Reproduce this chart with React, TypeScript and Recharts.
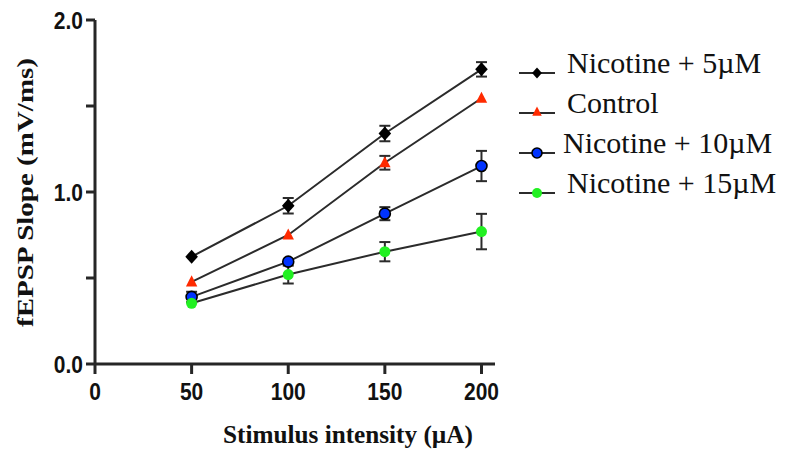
import React from 'react';
import { LineChart, Line, XAxis, YAxis, ErrorBar, Legend } from 'recharts';

const intensities = [50, 100, 150, 200];
const nic5Values = [0.624, 0.92, 1.34, 1.713];
const nic5Errors = [null, 0.045, 0.045, 0.042];
const controlValues = [0.477, 0.75, 1.17, 1.545];
const controlErrors = [null, null, 0.04, null];
const nic10Values = [0.39, 0.595, 0.874, 1.151];
const nic10Errors = [0.03, null, 0.038, 0.088];
const nic15Values = [0.353, 0.52, 0.653, 0.77];
const nic15Errors = [null, 0.052, 0.056, 0.103];
const xTicks = [0, 50, 100, 150, 200];
const yTicks = [0, 0.5, 1, 1.5, 2];
const seriesNames = ['Nicotine + 5\u00b5M', 'Control', 'Nicotine + 10\u00b5M', 'Nicotine + 15\u00b5M'];

const data = intensities.map((x, i) => ({
  x,
  nic5: nic5Values[i],
  nic5Err: nic5Errors[i],
  control: controlValues[i],
  controlErr: controlErrors[i],
  nic10: nic10Values[i],
  nic10Err: nic10Errors[i],
  nic15: nic15Values[i],
  nic15Err: nic15Errors[i],
}));

const LINE = '#2b2b2b';
const AXIS = '#262626';
const RED = '#ff2a00';
const BLUE = '#0033ff';
const GREEN = '#22f022';

const Diamond = ({ cx, cy, s = 7 }: any) => (
  <path d={`M${cx},${cy - s} L${cx + s * 0.9},${cy} L${cx},${cy + s} L${cx - s * 0.9},${cy} Z`} fill="#000" />
);
const Triangle = ({ cx, cy, s = 6 }: any) => (
  <path d={`M${cx},${cy - s * 1.1} L${cx + s * 0.95},${cy + s * 0.75} L${cx - s * 0.95},${cy + s * 0.75} Z`} fill={RED} />
);
const BlueDot = ({ cx, cy, r = 5.5 }: any) => (
  <circle cx={cx} cy={cy} r={r} fill={BLUE} stroke="#000" strokeWidth={1.6} />
);
const GreenDot = ({ cx, cy, r = 5.5 }: any) => <circle cx={cx} cy={cy} r={r} fill={GREEN} />;

const markers = [Diamond, Triangle, BlueDot, GreenDot];

const mkDot = (Comp: any, name: string) => (p: any) => {
  if (p.cx == null || p.cy == null) return <g key={`${name}-${p.index}`} />;
  return <Comp key={`${name}-${p.index}`} cx={p.cx} cy={p.cy} />;
};

const LegendContent = () => (
  <div style={{ fontFamily: '"Liberation Serif", "Times New Roman", serif', fontSize: 30, color: '#111' }}>
    {seriesNames.map((name, i) => {
      return (
        <div key={name} style={{ position: 'relative', height: 40, whiteSpace: 'nowrap' }}>
          <svg width={40} height={40} style={{ position: 'absolute', left: 0, top: 0 }}>
            <line x1={0} y1={30} x2={36} y2={30} stroke={LINE} strokeWidth={2} />
            {i === 0 && <Diamond cx={18} cy={30} s={5.5} />}
            {i === 1 && <Triangle cx={18} cy={29} s={5} />}
            {i === 2 && <BlueDot cx={18} cy={30} r={5} />}
            {i === 3 && <GreenDot cx={18} cy={30} r={5} />}
          </svg>
          <span style={{ position: 'absolute', left: i === 2 ? 44 : 48, top: 0, lineHeight: '40px' }}>{name}</span>
        </div>
      );
    })}
  </div>
);

const tickFont = { fontFamily: '"Liberation Sans", Arial, sans-serif', fontWeight: 700, fontSize: 21, fill: '#111' };

const XTick = (props: any) => {
  const { x, y, payload } = props;
  return (
    <g transform={`translate(${x},${y}) scale(1,1.18)`}>
      <text x={0} y={0} dy="0.71em" textAnchor="middle" style={tickFont}>
        {String(payload.value)}
      </text>
    </g>
  );
};

const YTick = (props: any) => {
  const { x, y, payload } = props;
  const v = payload.value as number;
  if (v % 1 !== 0) return <g />;
  return (
    <g transform={`translate(${x},${y}) scale(1,1.18)`}>
      <text x={0} y={0} dy="0.355em" textAnchor="end" style={tickFont}>
        {v.toFixed(1)}
      </text>
    </g>
  );
};

const YTitle = (props: any) => {
  const vb = props.viewBox || { x: 0, y: 20, width: 95, height: 344 };
  const cx = vb.x + 33;
  const cy = vb.y + vb.height / 2 + 0.5;
  return (
    <text
      x={cx}
      y={cy}
      transform={`rotate(-90, ${cx}, ${cy})`}
      textAnchor="middle"
      textLength={269}
      lengthAdjust="spacingAndGlyphs"
      style={{ fontFamily: '"Liberation Serif", "Times New Roman", serif', fontWeight: 700, fontSize: 23, fill: '#111' }}
    >
      fEPSP Slope (mV/ms)
    </text>
  );
};

const XTitle = (props: any) => {
  const vb = props.viewBox || { x: 95, y: 364, width: 400, height: 92 };
  const cx = vb.x + vb.width / 2 + 53;
  const cy = vb.y + 79;
  return (
    <text
      x={cx}
      y={cy}
      textAnchor="middle"
      textLength={250}
      lengthAdjust="spacingAndGlyphs"
      style={{ fontFamily: '"Liberation Serif", "Times New Roman", serif', fontWeight: 700, fontSize: 25, fill: '#111' }}
    >
      Stimulus intensity (µA)
    </text>
  );
};

export default function App() {
  return (
    <div style={{ position: 'absolute', left: 0, top: 0, width: 792, height: 456, background: '#fff' }}>
      <LineChart width={792} height={456} data={data} margin={{ top: 20, right: 297, bottom: 0, left: 0 }}>
        <XAxis
          dataKey="x"
          type="number"
          domain={[0, 207]}
          ticks={xTicks}
          allowDataOverflow
          height={92}
          tickSize={10}
          tickMargin={8}
          axisLine={{ stroke: AXIS, strokeWidth: 3 }}
          tickLine={{ stroke: AXIS, strokeWidth: 3 }}
          tick={XTick}
          label={{ content: XTitle } as any}
        />
        <YAxis
          type="number"
          domain={[0, 2]}
          ticks={yTicks}
          width={95}
          tickSize={9}
          tickMargin={3}
          axisLine={{ stroke: AXIS, strokeWidth: 3 }}
          tickLine={{ stroke: AXIS, strokeWidth: 3 }}
          tick={YTick}
          label={{ content: YTitle } as any}
        />
        <Legend
          layout="vertical"
          align="center"
          verticalAlign="middle"
          content={LegendContent as any}
          wrapperStyle={{ left: 519, top: 43, width: 273, height: 170 }}
        />
        <Line dataKey="control" stroke={LINE} strokeWidth={2} isAnimationActive={false} dot={mkDot(Triangle, 'c')} activeDot={false}>
          <ErrorBar dataKey="controlErr" width={5.5} stroke={LINE} strokeWidth={2} />
        </Line>
        <Line dataKey="nic10" stroke={LINE} strokeWidth={2} isAnimationActive={false} dot={mkDot(BlueDot, 'b')} activeDot={false}>
          <ErrorBar dataKey="nic10Err" width={5.5} stroke={LINE} strokeWidth={2} />
        </Line>
        <Line dataKey="nic15" stroke={LINE} strokeWidth={2} isAnimationActive={false} dot={mkDot(GreenDot, 'g')} activeDot={false}>
          <ErrorBar dataKey="nic15Err" width={5.5} stroke={LINE} strokeWidth={2} />
        </Line>
        <Line dataKey="nic5" stroke={LINE} strokeWidth={2} isAnimationActive={false} dot={mkDot(Diamond, 'd')} activeDot={false}>
          <ErrorBar dataKey="nic5Err" width={5.5} stroke={LINE} strokeWidth={2} />
        </Line>
      </LineChart>
    </div>
  );
}
